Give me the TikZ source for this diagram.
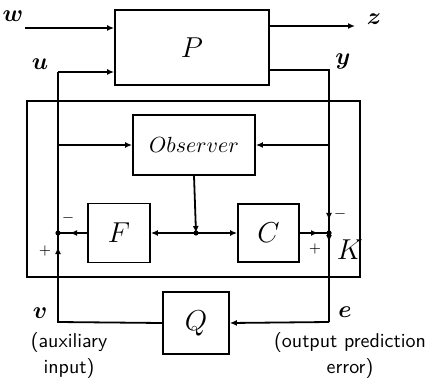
\documentclass[tikz,border=0pt]{standalone}
\usepackage{amsmath,bm}
\usetikzlibrary{arrows.meta}
\begin{document}
\begin{tikzpicture}[x=0.5pt,y=-0.5pt,
  blk/.style={draw,line width=0.9pt,inner sep=0pt},
  wire/.style={line width=0.9pt},
  tip/.style={wire,-{Latex[length=3.5pt,width=3pt]}},
  jdot/.style={circle,fill,inner sep=0pt,minimum size=2.6pt},
  lab/.style={font=\large},
  note/.style={font=\sffamily\normalsize,align=center,inner sep=0pt}]
\useasboundingbox (0,0) rectangle (432,384);
% blocks
\node[blk,minimum width=77pt,minimum height=37.5pt] (P) at (192,47.5) {\Large$P$};
\node[blk,minimum width=166.5pt,minimum height=88pt] (K) at (193.5,189) {};
\node[blk,minimum width=61pt,minimum height=30pt] (O) at (194,145) {\fontsize{11}{13}\selectfont$Observer$};
\node[blk,minimum width=31pt,minimum height=29.5pt] (F) at (119,233) {\Large$F$};
\node[blk,minimum width=30.5pt,minimum height=29pt] (C) at (268.5,233) {\Large$C$};
\node[blk,minimum width=33pt,minimum height=31pt] (Q) at (196,323) {\Large$Q$};
% coordinates
\coordinate (w0) at (25,28);
\coordinate (zE) at (355,26);
\coordinate (uy) at (58,72);
\coordinate (uo) at (58,145);
\coordinate (yy) at (329,70);
\coordinate (yo) at (329,145);
\coordinate (jL) at (58,233);
\coordinate (jR) at (329,233);
\coordinate (jM) at (196,233);
\coordinate (vb) at (58,322);
\coordinate (eb) at (329,322);
% labels
\node[lab] (lw) at (13,16) {$\bm{w}$};
\node[lab] (lz) at (374,19) {$\bm{z}$};
\node[lab] (lu) at (40,64) {$\bm{u}$};
\node[lab] (ly) at (343,62) {$\bm{y}$};
\node[lab] (lv) at (40,313) {$\bm{v}$};
\node[lab] (le) at (345,312) {$\bm{e}$};
\node[note] (ln1) at (69,355) {(auxiliary\\[1pt]input)};
\node[note] (ln2) at (350,355) {(output prediction\\[1pt]error)};
\node[font=\Large] (lK) at (350,250) {$K$};
\node (m1) at (68,218) {$\scriptstyle-$};
\node (p1) at (45,251) {$\scriptstyle+$};
\node (m2) at (340,214) {$\scriptstyle-$};
\node (p2) at (315,249) {$\scriptstyle+$};
% wires
\draw[tip] (w0) -- (w0 -| P.west);
\draw[tip] (P.east |- zE) -- (zE);
\draw[wire] (jL) -- (uy);
\draw[tip] (uy) -- (uy -| P.west);
\draw[tip] (uo) -- (O.west);
\draw[wire] (P.east |- yy) -- (yy) -- (jR);
\draw[tip] (yo) -- (O.east);
\draw[tip] (yy) -- (329,220);
\draw[tip] (O.south) -- (jM);
\draw[tip] (jM) -- (F.east);
\draw[tip] (jM) -- (C.west);
\draw[wire] (F.west) -- (jL);
\draw[tip] (F.west) -- (70,233);
\draw[wire] (C.east) -- (jR);
\draw[tip] (C.east) -- (318,233);
\draw[wire] (Q.west) -- (vb) -- (jL);
\draw[tip] (vb) -- (58,247);
\draw[wire] (jR) -- (eb);
\draw[tip] (jR) -- (329,242);
\draw[tip] (eb) -- (Q.east);
\node[jdot] (dL) at (jL) {};
\node[jdot] (dR) at (jR) {};
\node[jdot] (dM) at (jM) {};
\end{tikzpicture}
\end{document}
